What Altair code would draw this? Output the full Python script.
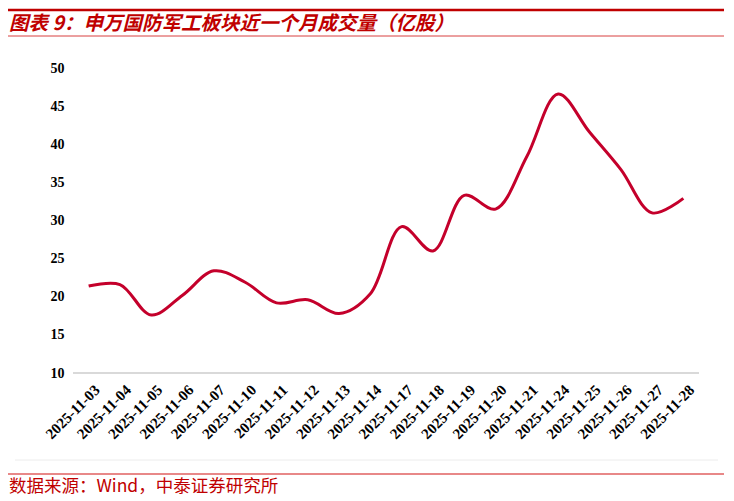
import altair as alt
import pandas as pd

dates = ["2025-11-03", "2025-11-04", "2025-11-05", "2025-11-06", "2025-11-07",
         "2025-11-10", "2025-11-11", "2025-11-12", "2025-11-13", "2025-11-14",
         "2025-11-17", "2025-11-18", "2025-11-19", "2025-11-20", "2025-11-21",
         "2025-11-24", "2025-11-25", "2025-11-26", "2025-11-27", "2025-11-28"]
volume = [21.4, 21.6, 17.6, 20.2, 23.4, 21.9, 19.2, 19.6, 17.8, 20.4,
          29.2, 26.0, 33.3, 31.5, 38.4, 46.6, 41.6, 36.7, 31.0, 32.9]
y_ticks = [10, 15, 20, 25, 30, 35, 40, 45, 50]

title_text = "图表 9：申万国防军工板块近一个月成交量（亿股）"
source_text = "数据来源：Wind，中泰证券研究所"

df = pd.DataFrame({"date": dates, "vol": volume})

W, H = 626, 305

line = alt.Chart(df).mark_line(
    color="#c4002b", strokeWidth=3, interpolate="catmull-rom"
).encode(
    x=alt.X("date:O", sort=dates, scale=alt.Scale(type="point", padding=0.5),
            axis=alt.Axis(title=None, labelAngle=-45, labelAlign="right",
                          labelBaseline="middle", labelFont="Liberation Serif",
                          labelFontWeight="bold", labelFontSize=15, labelColor="#000",
                          ticks=False, domain=False, labelPadding=14, labelOffset=8)),
    y=alt.Y("vol:Q", scale=alt.Scale(domain=[10, 50], nice=False, zero=False),
            axis=alt.Axis(title=None, values=y_ticks, labelFont="Liberation Serif",
                          labelFontWeight="bold", labelFontSize=14, labelColor="#000",
                          ticks=False, domain=False, grid=False, labelPadding=9)),
)

base = alt.Chart(pd.DataFrame({"a": [0]}))

bottom_rule = base.mark_rule(color="#d9d9d9", strokeWidth=2).encode(
    x=alt.value(0), x2=alt.value(W), y=alt.value(H))

top_thick = base.mark_rule(color="#c00000", strokeWidth=2.5).encode(
    x=alt.value(-67), x2=alt.value(655), y=alt.value(-58))
top_thin = base.mark_rule(color="#d84040", strokeWidth=1).encode(
    x=alt.value(-67), x2=alt.value(655), y=alt.value(-32))
frame_rule = base.mark_rule(color="#ececec", strokeWidth=1).encode(
    x=alt.value(-58), x2=alt.value(645), y=alt.value(392))
foot_rule = base.mark_rule(color="#e06060", strokeWidth=1.5).encode(
    x=alt.value(-67), x2=alt.value(655), y=alt.value(406))

title_mark = base.mark_text(
    text=title_text, align="left", baseline="middle", font="Noto Sans CJK SC",
    fontSize=19.5, fontWeight="bold", fontStyle="italic", color="#c00000"
).encode(x=alt.value(-64), y=alt.value(-44))

source_mark = base.mark_text(
    text=source_text, align="left", baseline="middle", font="Noto Sans CJK SC",
    fontSize=17.5, color="#c00000"
).encode(x=alt.value(-64), y=alt.value(419))

chart = alt.layer(
    bottom_rule, line, top_thick, top_thin, frame_rule, foot_rule, title_mark, source_mark
).properties(
    width=W, height=H,
    autosize=alt.AutoSizeParams(type="none"),
    padding={"left": 65, "top": 60, "right": 25, "bottom": 124},
).configure_view(stroke=None)

chart.save("out.html", embed_options={"renderer": "svg", "actions": False})
